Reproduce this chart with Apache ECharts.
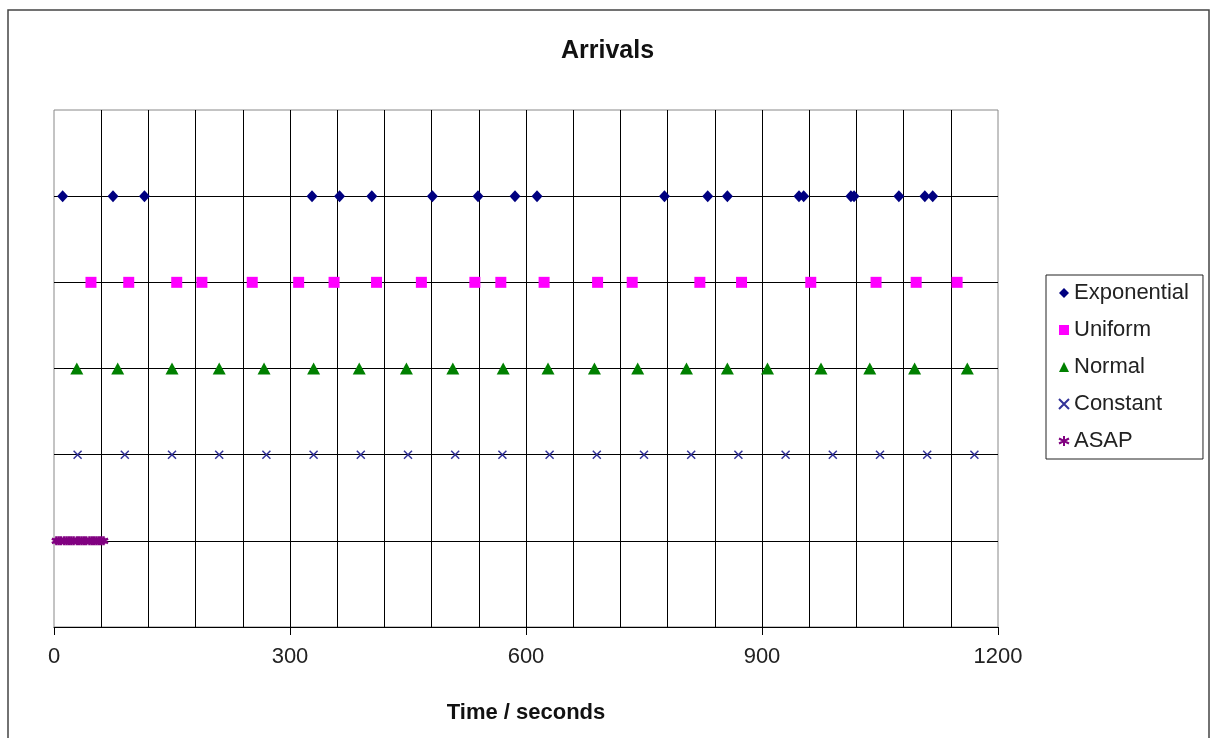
<!DOCTYPE html>
<html>
<head>
<meta charset="utf-8">
<script src="https://cdn.jsdelivr.net/npm/echarts@6/dist/echarts.min.js"></script>
<style>html,body{margin:0;padding:0;background:#fff}#c{width:1215px;height:738px}</style>
</head>
<body>
<div id="c"></div>
<script>
// ---- data ----
var seriesNames = ['Exponential', 'Uniform', 'Normal', 'Constant', 'ASAP'];
var rowLevels = [5, 4, 3, 2, 1];
var exponentialTimes = [11, 75, 115, 328, 363, 404, 481, 539, 586, 614, 776, 831, 856, 947, 953, 1013, 1017, 1074, 1107, 1117];
var uniformTimes = [47, 95, 156, 188, 252, 311, 356, 410, 467, 535, 568, 623, 691, 735, 821, 874, 962, 1045, 1096, 1148];
var normalTimes = [29, 81, 150, 210, 267, 330, 388, 448, 507, 571, 628, 687, 742, 804, 856, 907, 975, 1037, 1094, 1161];
var constantTimes = [30, 90, 150, 210, 270, 330, 390, 450, 510, 570, 630, 690, 750, 810, 870, 930, 990, 1050, 1110, 1170];
var asapTimes = [3, 6, 9, 13, 16, 19, 22, 25, 29, 32, 35, 38, 41, 45, 48, 51, 54, 57, 60, 63];
var xTicks = [0, 300, 600, 900, 1200];

var FONT = '"Liberation Sans", Arial, sans-serif';
var allTimes = [exponentialTimes, uniformTimes, normalTimes, constantTimes, asapTimes];
function pts(times, level) { return times.map(function (t) { return [t, level]; }); }

var styles = [
  { symbol: 'diamond', symbolSize: [11, 12], itemStyle: { color: '#000080', opacity: 1 } },
  { symbol: 'rect', symbolSize: 11, itemStyle: { color: '#FF00FF', opacity: 1 } },
  { symbol: 'triangle', symbolSize: [13, 12], itemStyle: { color: '#008000', opacity: 1 } },
  { symbol: 'path://M0,0L10,10M10,0L0,10', symbolSize: 8, itemStyle: { color: '#333399', borderColor: '#333399', borderWidth: 1.5, opacity: 1 } },
  { symbol: 'path://M5,0L5,10M0,2.5L10,7.5M0,7.5L10,2.5', symbolSize: 9, itemStyle: { color: '#800080', borderColor: '#800080', borderWidth: 2.4, opacity: 1 } }
];

var series = seriesNames.map(function (n, i) {
  return {
    name: n,
    type: 'scatter',
    symbol: styles[i].symbol,
    symbolSize: styles[i].symbolSize,
    itemStyle: styles[i].itemStyle,
    data: pts(allTimes[i], rowLevels[i]),
    z: 5
  };
});

var chart = echarts.init(document.getElementById('c'), null, { renderer: 'canvas' });
chart.setOption({
  animation: false,
  backgroundColor: '#fff',
  textStyle: { fontFamily: FONT },
  title: {
    text: 'Arrivals', left: 'center', top: 39, padding: 0,
    textStyle: { fontFamily: FONT, fontSize: 25, fontWeight: 'bold', color: '#111' }
  },
  graphic: [{
    type: 'rect', silent: true, z: -1,
    shape: { x: 8, y: 10, width: 1201, height: 760 },
    style: { fill: 'none', stroke: '#444', lineWidth: 1.5 }
  }],
  legend: {
    orient: 'vertical', left: 1046, top: 275,
    padding: [7, 14, 7, 12], itemGap: 15, itemWidth: 10, itemHeight: 10,
    borderColor: '#222', borderWidth: 1, backgroundColor: '#fff',
    textStyle: { fontFamily: FONT, fontSize: 22, color: '#222' },
    data: seriesNames
  },
  grid: {
    left: 54, right: 217, top: 110, bottom: 111,
    show: true, borderColor: '#888', borderWidth: 1, backgroundColor: '#fff'
  },
  xAxis: {
    type: 'value', min: xTicks[0], max: xTicks[xTicks.length - 1], interval: xTicks[1] - xTicks[0],
    name: 'Time / seconds', nameLocation: 'middle', nameGap: 75,
    nameTextStyle: { fontFamily: FONT, fontSize: 22, fontWeight: 'bold', color: '#111' },
    axisLine: { show: true, lineStyle: { color: '#000', width: 1 } },
    axisTick: { show: true, length: 8, lineStyle: { color: '#000' } },
    axisLabel: { fontFamily: FONT, fontSize: 22, color: '#222', margin: 19, formatter: function (v) { return String(v); } },
    splitLine: { show: true, showMinLine: false, showMaxLine: false, lineStyle: { color: '#000', width: 1 } },
    minorTick: { show: false, splitNumber: 5 },
    minorSplitLine: { show: true, lineStyle: { color: '#000', width: 1 } }
  },
  yAxis: {
    type: 'value', min: 0, max: 6, interval: 1,
    axisLine: { show: false }, axisTick: { show: false }, axisLabel: { show: false },
    splitLine: { show: true, showMinLine: false, showMaxLine: false, lineStyle: { color: '#000', width: 1 } }
  },
  series: series
});
</script>
</body>
</html>
